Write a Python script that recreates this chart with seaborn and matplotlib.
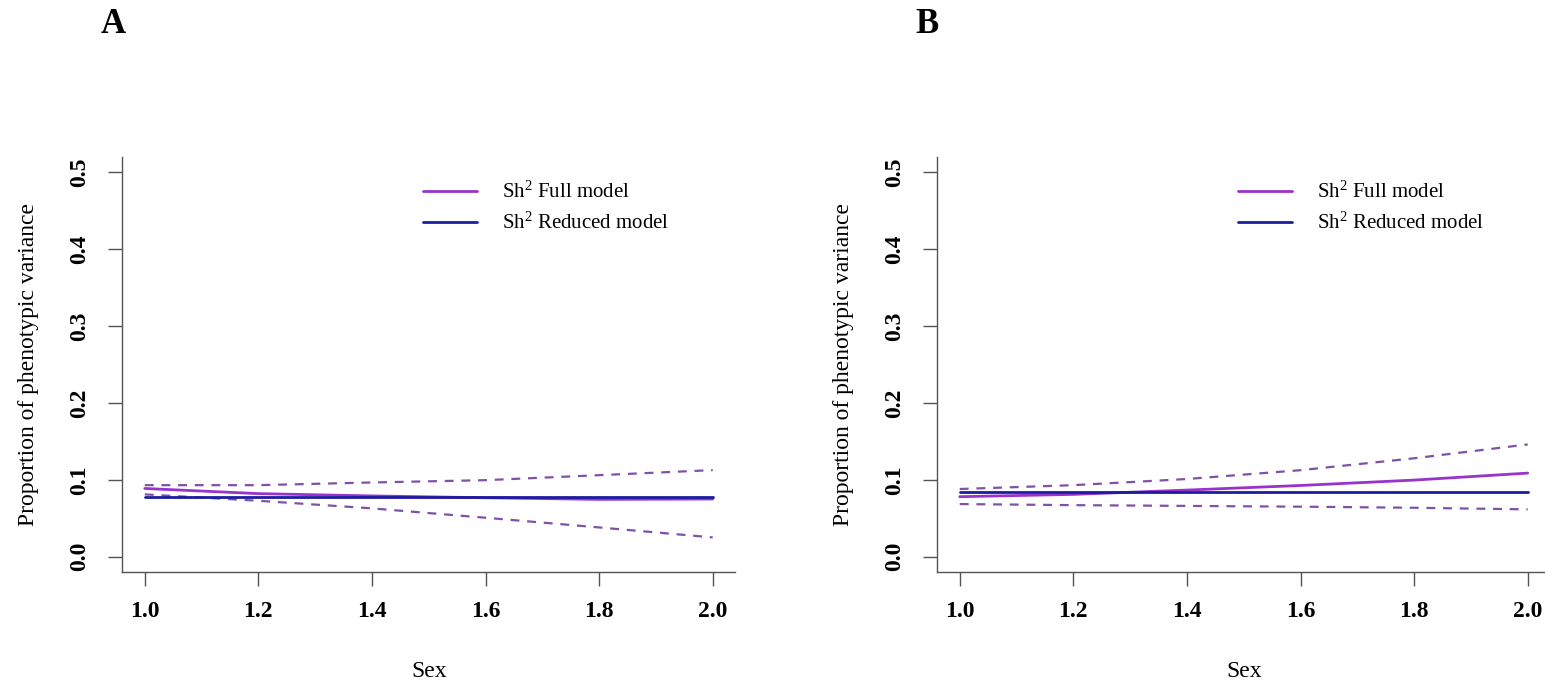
import pandas as pd
import matplotlib.pyplot as plt
import seaborn as sns

# values, at Sex = 1.0, 1.2, ..., 2.0
sex = [1.0, 1.2, 1.4, 1.6, 1.8, 2.0]

a_full = [0.0887, 0.082, 0.079, 0.0766, 0.0745, 0.075]
a_full_upper = [0.093, 0.093, 0.0965, 0.0995, 0.106, 0.1126]
a_full_lower = [0.081, 0.0727, 0.0628, 0.0506, 0.038, 0.025]
a_reduced = [0.078, 0.078, 0.078, 0.078, 0.078, 0.078]

b_full = [0.078, 0.081, 0.0866, 0.0926, 0.0996, 0.1087]
b_full_upper = [0.088, 0.093, 0.101, 0.1125, 0.128, 0.146]
b_full_lower = [0.0684, 0.067, 0.066, 0.065, 0.0636, 0.0615]
b_reduced = [0.084, 0.084, 0.084, 0.084, 0.084, 0.084]

panel_labels = ["A", "B"]
legend_labels = [r"Sh$^2$ Full model", r"Sh$^2$ Reduced model"]
x_ticks = [1.0, 1.2, 1.4, 1.6, 1.8, 2.0]
y_ticks = [0.0, 0.1, 0.2, 0.3, 0.4, 0.5]

sns.set_style("ticks")
plt.rcParams["font.family"] = ["Liberation Serif", "DejaVu Serif"]
plt.rcParams["mathtext.fontset"] = "custom"
plt.rcParams["mathtext.rm"] = "Liberation Serif"
plt.rcParams["mathtext.it"] = "Liberation Serif:italic"
plt.rcParams["mathtext.bf"] = "Liberation Serif:bold"
plt.rcParams["text.color"] = "black"
plt.rcParams["axes.labelcolor"] = "black"
plt.rcParams["xtick.labelcolor"] = "black"
plt.rcParams["ytick.labelcolor"] = "black"

full_col = "#9933CC"
red_col = "#1C1C9E"
ci_col = "#7E52A8"
axis_col = "#555555"

fig = plt.figure(figsize=(15.45, 6.87), dpi=100)
ax_a = fig.add_axes([0.079, 0.1674, 0.397, 0.604])
ax_b = fig.add_axes([0.6065, 0.1674, 0.397, 0.604])

panels = [
    (ax_a, a_full, a_full_upper, a_full_lower, a_reduced),
    (ax_b, b_full, b_full_upper, b_full_lower, b_reduced),
]

for i, (ax, full, upper, lower, reduced) in enumerate(panels):
    df = pd.DataFrame({"Sex": sex, "full": full, "upper": upper,
                       "lower": lower, "reduced": reduced})
    sns.lineplot(data=df, x="Sex", y="upper", ax=ax, color=ci_col, lw=1.6,
                 linestyle=(0, (4, 3.5)))
    sns.lineplot(data=df, x="Sex", y="lower", ax=ax, color=ci_col, lw=1.6,
                 linestyle=(0, (4, 3.5)))
    sns.lineplot(data=df, x="Sex", y="full", ax=ax, color=full_col, lw=2,
                 label=legend_labels[0])
    sns.lineplot(data=df, x="Sex", y="reduced", ax=ax, color=red_col, lw=2,
                 label=legend_labels[1])

    ax.set_xlim(0.96, 2.04)
    ax.set_ylim(-0.02, 0.52)
    ax.set_xticks(x_ticks)
    ax.set_xticklabels([f"{t:.1f}" for t in x_ticks], fontsize=17,
                       fontweight="bold")
    ax.set_yticks(y_ticks)
    ax.set_yticklabels([f"{t:.1f}" for t in y_ticks], fontsize=17,
                       fontweight="bold", rotation=90, va="center")
    ax.tick_params(axis="both", length=10, width=1, color=axis_col,
                   direction="out")
    ax.tick_params(axis="x", pad=11)
    ax.tick_params(axis="y", pad=13)
    for s in ["top", "right"]:
        ax.spines[s].set_visible(False)
    for s in ["left", "bottom"]:
        ax.spines[s].set_color(axis_col)
        ax.spines[s].set_linewidth(1)
    ax.set_xlabel("Sex", fontsize=17, labelpad=28)
    ax.set_ylabel("Proportion of phenotypic variance", fontsize=17,
                  labelpad=22)

    ax.legend(loc="upper left", bbox_to_anchor=(0.46, 0.985), frameon=False,
              fontsize=15, handlelength=2.6, handletextpad=1.2,
              labelspacing=0.45)

    ax.text(-0.035, 1.32, panel_labels[i], transform=ax.transAxes,
            fontsize=25, fontweight="bold", ha="left", va="center")

fig.savefig("out.png", dpi=100)
